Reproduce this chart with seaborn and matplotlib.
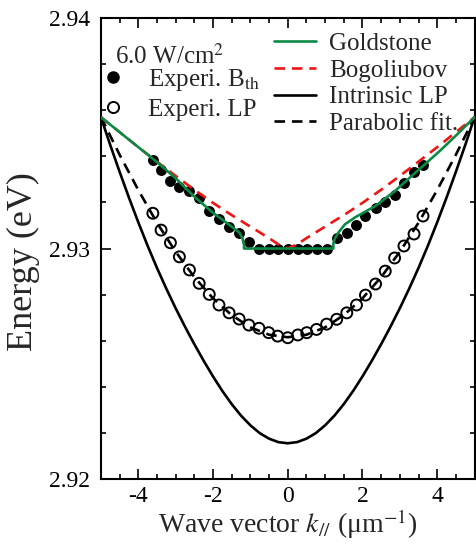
import numpy as np
import pandas as pd
import matplotlib
matplotlib.use("Agg")
import matplotlib.pyplot as plt
from matplotlib.lines import Line2D
from matplotlib.ticker import MultipleLocator, FormatStrFormatter
import seaborn as sns

sns.set_theme(style="ticks")
plt.rcParams["font.family"] = ["Liberation Serif", "DejaVu Serif"]
plt.rcParams["mathtext.fontset"] = "stix"
plt.rcParams["axes.unicode_minus"] = False

# experimental points (wave vector in um^-1, energy in eV)
k_exp = [-3.61, -3.39, -3.14, -2.90, -2.63, -2.37, -2.10, -1.84, -1.57, -1.30,
         -1.04, -0.77, -0.51, -0.27, 0.00, 0.27, 0.51, 0.77, 1.04, 1.31,
         1.58, 1.84, 2.08, 2.35, 2.61, 2.86, 3.11, 3.38, 3.62]
E_bth = [2.93384, 2.93341, 2.93293, 2.93267, 2.93249, 2.93218, 2.93163, 2.93128, 2.93093, 2.93066,
         2.93028, 2.93000, 2.93000, 2.93000, 2.93000, 2.93000, 2.93000, 2.93000, 2.93000, 2.93044,
         2.93066, 2.93102, 2.93143, 2.93174, 2.93203, 2.93234, 2.93286, 2.93333, 2.93364]
E_lp = [2.93153, 2.93080, 2.93025, 2.92964, 2.92907, 2.92849, 2.92801, 2.92755, 2.92721, 2.92694,
        2.92668, 2.92654, 2.92635, 2.92620, 2.92613, 2.92625, 2.92635, 2.92649, 2.92672, 2.92693,
        2.92721, 2.92755, 2.92798, 2.92846, 2.92902, 2.92959, 2.93011, 2.93063, 2.93141]

# Goldstone mode
k_gold = [-5.0, -4.5, -4.0, -3.5, -3.0, -2.5, -2.0, -1.5, -1.30, -1.21, -1.17, -1.17,
          1.22, 1.22, 1.26, 1.35, 1.53, 1.80, 2.33, 2.86, 3.31, 3.66, 4.10, 4.5, 5.0]
E_gold = [2.93570, 2.93505, 2.93440, 2.93375, 2.93305, 2.93225, 2.93155, 2.93095, 2.93070, 2.93044, 2.93015, 2.93000,
          2.93000, 2.93020, 2.93043, 2.93068, 2.93105, 2.93135, 2.93183, 2.93248, 2.93314, 2.93364, 2.93428, 2.93490, 2.93570]

# Bogoliubov dispersion
k_bog = [-5.0, -4.5, -4.0, -3.5, -3.0, -2.5, -2.0, -1.5, -1.0, -0.5, -0.25, 0.0,
         0.25, 0.5, 1.0, 1.5, 2.0, 2.5, 3.0, 3.5, 4.0, 4.5, 5.0]
E_bog = [2.93570, 2.93505, 2.93440, 2.93377, 2.93315, 2.93255, 2.93198, 2.93145, 2.93095, 2.93045, 2.93018, 2.93000,
         2.93018, 2.93045, 2.93095, 2.93145, 2.93198, 2.93255, 2.93315, 2.93377, 2.93440, 2.93505, 2.93570]

# intrinsic LP
k_int = [-5.0, -4.75, -4.5, -4.25, -4.0, -3.75, -3.5, -3.25, -3.0, -2.75, -2.5, -2.25, -2.0, -1.75,
         -1.5, -1.25, -1.0, -0.75, -0.5, -0.25, 0.0, 0.25, 0.5, 0.75, 1.0, 1.25, 1.5, 1.75,
         2.0, 2.25, 2.5, 2.75, 3.0, 3.25, 3.5, 3.75, 4.0, 4.25, 4.5, 4.75, 5.0]
E_int = [2.93570, 2.93449, 2.93333, 2.93221, 2.93114, 2.93012, 2.92916, 2.92826, 2.92741, 2.92661,
         2.92585, 2.92513, 2.92445, 2.92382, 2.92325, 2.92275, 2.92233, 2.92199, 2.92175, 2.92160,
         2.92155, 2.92160, 2.92175, 2.92199, 2.92233, 2.92275, 2.92325, 2.92382, 2.92445, 2.92513,
         2.92585, 2.92661, 2.92741, 2.92826, 2.92916, 2.93012, 2.93114, 2.93221, 2.93333, 2.93449, 2.93570]

# parabolic fit
k_par = [-5.0, -4.5, -4.0, -3.5, -3.0, -2.5, -2.0, -1.5, -1.0, -0.5, 0.0,
         0.5, 1.0, 1.5, 2.0, 2.5, 3.0, 3.5, 4.0, 4.5, 5.0]
E_par = [2.93571, 2.93407, 2.93254, 2.93112, 2.92986, 2.92876, 2.92784, 2.92711, 2.92658, 2.92626, 2.92615,
         2.92626, 2.92658, 2.92711, 2.92784, 2.92876, 2.92986, 2.93112, 2.93254, 2.93407, 2.93571]

green = "#0b8a45"
red = "#f01414"

fig, ax = plt.subplots(figsize=(4.76, 5.47), dpi=100)
fig.subplots_adjust(left=0.212, right=0.997, bottom=0.1243, top=0.967)

lw = 1.9
sns.lineplot(x=k_int, y=E_int, color="black", lw=lw, sort=False, estimator=None, ax=ax, zorder=2)
sns.lineplot(x=k_par, y=E_par, color="black", lw=lw, sort=False, estimator=None, ax=ax,
             zorder=2, linestyle=(0, (4, 2.6)))
sns.scatterplot(x=k_exp, y=E_bth, color="black", s=62, edgecolor="black", linewidth=0, ax=ax, zorder=3)
sns.scatterplot(x=k_exp, y=E_lp, facecolor="none", edgecolor="black", s=62, linewidth=1.4, ax=ax, zorder=3)
sns.lineplot(x=k_bog, y=E_bog, color=red, lw=lw, sort=False, estimator=None, ax=ax,
             zorder=4, linestyle=(0, (4, 2.6)))
sns.lineplot(x=k_gold, y=E_gold, color=green, lw=lw, sort=False, estimator=None, ax=ax, zorder=5)

ax.set_xlim(-5, 5)
ax.set_ylim(2.92, 2.94)
ax.xaxis.set_major_locator(MultipleLocator(2))
ax.xaxis.set_minor_locator(MultipleLocator(0.5))
ax.yaxis.set_major_locator(MultipleLocator(0.01))
ax.yaxis.set_minor_locator(MultipleLocator(0.002))
ax.yaxis.set_major_formatter(FormatStrFormatter("%.2f"))
ax.tick_params(which="both", direction="in", top=True, right=True, width=1.2, labelsize=17, colors="black")
ax.tick_params(which="major", length=7)
ax.tick_params(which="minor", length=3.5)
ax.tick_params(axis="y", which="major", pad=8)
ax.tick_params(axis="x", which="major", pad=5)
for sp in ax.spines.values():
    sp.set_linewidth(1.5)
    sp.set_color("black")

ax.set_xlabel("Wave vector $k_{//}$ (\u03bcm$^{-1}$)", fontsize=20, labelpad=0)
ax.set_ylabel("Energy (eV)", fontsize=26)
ax.yaxis.set_label_coords(-0.163, 0.471)

ax.text(0.037, 0.917, "6.0 W/cm$^2$", transform=ax.transAxes, fontsize=18, va="center", ha="left")

h_left = [Line2D([], [], ls="none", marker="o", ms=8, mfc="black", mec="black"),
          Line2D([], [], ls="none", marker="o", ms=8, mfc="none", mec="black", mew=1.4)]
leg1 = ax.legend(h_left, ["Experi. B$_{\\mathrm{th}}$", "Experi. LP"], loc="upper left",
                 bbox_to_anchor=(0.005, 0.8935), frameon=False, fontsize=18, borderpad=0,
                 borderaxespad=0, handlelength=0.8, handletextpad=1.0, labelspacing=0.2)
ax.add_artist(leg1)

h_right = [Line2D([], [], color=green, lw=lw),
           Line2D([], [], color=red, lw=lw, ls=(0, (4, 2.6))),
           Line2D([], [], color="black", lw=lw),
           Line2D([], [], color="black", lw=lw, ls=(0, (4, 2.6)))]
ax.legend(h_right, ["Goldstone", "Bogoliubov", "Intrinsic LP", "Parabolic fit."], loc="upper left",
          bbox_to_anchor=(0.464, 0.969), frameon=False, fontsize=18, borderpad=0,
          borderaxespad=0, handlelength=1.68, handletextpad=0.52, labelspacing=0.17)

plt.savefig("out.png", dpi=100)
